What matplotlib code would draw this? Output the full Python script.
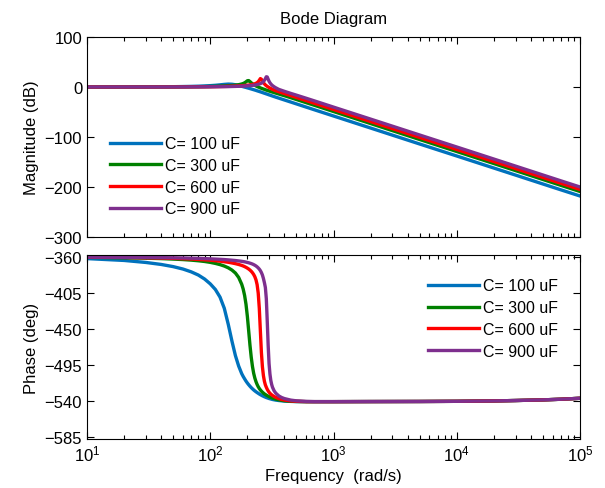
import matplotlib.pyplot as plt
import numpy as np

plt.rcParams['font.family'] = ['Liberation Sans', 'DejaVu Sans']
plt.rcParams['mathtext.fontset'] = 'custom'
plt.rcParams['mathtext.rm'] = 'Liberation Sans'

# Frequency grid (rad/s), shared by all curves
freq = [10, 20, 30, 40, 50, 60, 70, 80, 90, 100, 110, 120, 130, 140, 150, 160, 170, 180,
        185, 190, 195, 200, 205, 210, 215, 220, 225, 230, 235, 240, 245, 250, 255, 260,
        265, 270, 275, 280, 285, 290, 295, 300, 305, 310, 315, 320, 330, 340, 360, 380,
        400, 450, 500, 600, 700, 1000, 2000, 5000, 1e4, 2e4, 3e4, 5e4, 7e4, 1e5]

labels = ['C= 100 uF', 'C= 300 uF', 'C= 600 uF', 'C= 900 uF']
colors = ['#0072BD', '#008000', '#FF0000', '#7E2F8E']

# Magnitude (dB)
mag_100 = [0.0, 0.1, 0.2, 0.4, 0.6, 0.9, 1.2, 1.6, 2.1, 2.7, 3.4, 4.3, 5.2, 5.8, 5.5, 4.5, 3.0, 1.4,
           0.6, -0.2, -0.9, -1.7, -2.4, -3.2, -3.9, -4.7, -5.4, -6.1, -6.8, -7.6, -8.3, -9.0, -9.7, -10.4,
           -11.1, -11.8, -12.5, -13.1, -13.8, -14.4, -15.1, -15.7, -16.3, -16.9, -17.5, -18.1, -19.2, -20.3, -22.3, -24.2,
           -26.0, -30.1, -33.8, -40.2, -45.6, -58.0, -82.1, -114.0, -138.0, -162.1, -176.2, -194.0, -205.7, -218.0]
mag_300 = [0.0, 0.0, 0.1, 0.1, 0.2, 0.3, 0.4, 0.6, 0.8, 1.0, 1.3, 1.6, 2.0, 2.5, 3.0, 3.7, 4.6, 6.0,
           7.0, 8.4, 10.3, 12.5, 12.8, 10.8, 8.5, 6.5, 4.8, 3.4, 2.1, 1.0, 0.0, -0.9, -1.8, -2.6,
           -3.4, -4.1, -4.8, -5.5, -6.2, -6.8, -7.4, -8.0, -8.6, -9.1, -9.7, -10.2, -11.2, -12.2, -14.0, -15.8,
           -17.4, -21.4, -25.0, -31.3, -36.6, -49.0, -73.1, -105.0, -129.0, -153.1, -167.2, -185.0, -196.7, -209.0]
mag_600 = [0.0, 0.0, 0.0, 0.1, 0.1, 0.2, 0.3, 0.4, 0.5, 0.6, 0.7, 0.9, 1.1, 1.3, 1.5, 1.8, 2.1, 2.5,
           2.7, 3.0, 3.2, 3.5, 3.8, 4.2, 4.6, 5.1, 5.7, 6.4, 7.4, 8.7, 10.6, 13.5, 16.8, 15.5,
           12.0, 8.8, 6.2, 4.2, 2.6, 1.2, 0.0, -1.1, -2.1, -3.0, -3.9, -4.7, -6.2, -7.5, -9.5, -11.4,
           -13.1, -17.2, -20.9, -27.2, -32.6, -45.0, -69.1, -100.9, -125.0, -149.1, -163.2, -181.0, -192.6, -205.0]
mag_900 = [0.0, 0.0, 0.0, 0.0, 0.1, 0.1, 0.2, 0.2, 0.3, 0.4, 0.5, 0.6, 0.7, 0.8, 1.0, 1.2, 1.4, 1.7,
           1.8, 2.0, 2.1, 2.3, 2.5, 2.7, 2.9, 3.2, 3.5, 3.8, 4.2, 4.7, 5.2, 5.9, 6.7, 7.7,
           9.0, 10.8, 13.3, 16.5, 20.5, 20.0, 15.5, 11.5, 8.5, 6.2, 4.3, 2.8, 0.4, -1.6, -4.8, -6.8,
           -8.7, -12.8, -16.3, -22.5, -27.8, -40.2, -64.2, -96.0, -120.0, -144.1, -158.2, -176.0, -187.7, -200.0]

# Phase (deg)
phase_100 = [-362.0, -364.3, -366.8, -369.3, -372.0, -375.0, -378.5, -382.5, -387.5, -393.5, -400.5, -410.0, -424.0, -444.0, -465.0, -483.0, -496.0, -505.5,
             -509.0, -512.0, -514.8, -517.2, -519.3, -521.2, -522.9, -524.4, -525.8, -527.0, -528.1, -529.1, -530.0, -530.9, -531.7, -532.4,
             -533.1, -533.7, -534.3, -534.8, -535.3, -535.7, -536.1, -536.5, -536.8, -537.1, -537.4, -537.7, -538.1, -538.5, -539.0, -539.4,
             -539.7, -540.1, -540.3, -540.4, -540.4, -540.4, -540.3, -540.2, -540.0, -539.5, -539.0, -538.2, -537.4, -536.2]
phase_300 = [-360.5, -361.0, -361.5, -362.0, -362.6, -363.2, -363.9, -364.7, -365.6, -366.7, -368.0, -369.5, -371.3, -373.5, -376.3, -380.0, -385.5, -394.0,
             -400.0, -408.0, -419.0, -434.0, -452.0, -470.0, -485.0, -496.5, -505.0, -511.0, -515.5, -519.0, -521.8, -524.0, -525.8, -527.3,
             -528.6, -529.7, -530.7, -531.5, -532.3, -533.0, -533.6, -534.2, -534.7, -535.2, -535.6, -536.0, -536.7, -537.3, -538.2, -538.8,
             -539.3, -539.9, -540.2, -540.4, -540.4, -540.4, -540.3, -540.2, -540.0, -539.5, -539.0, -538.2, -537.4, -536.2]
phase_600 = [-360.3, -360.6, -361.0, -361.3, -361.7, -362.1, -362.5, -363.0, -363.5, -364.0, -364.6, -365.2, -365.9, -366.6, -367.4, -368.3, -369.3, -370.5,
             -371.2, -372.0, -372.9, -373.9, -375.0, -376.3, -377.8, -379.6, -381.8, -384.6, -388.5, -394.5, -405.0, -424.0, -452.0, -479.0,
             -497.0, -508.0, -515.0, -519.5, -522.5, -525.0, -527.0, -528.6, -529.9, -531.0, -531.9, -532.7, -534.0, -535.0, -536.6, -537.7,
             -538.4, -539.5, -540.0, -540.4, -540.4, -540.4, -540.3, -540.2, -540.0, -539.5, -539.0, -538.2, -537.4, -536.2]
phase_900 = [-360.2, -360.4, -360.6, -360.8, -361.0, -361.2, -361.5, -361.7, -362.0, -362.3, -362.6, -362.9, -363.2, -363.6, -364.0, -364.4, -364.9, -365.4,
             -365.7, -366.0, -366.4, -366.8, -367.2, -367.7, -368.2, -368.8, -369.5, -370.3, -371.2, -372.3, -373.6, -375.1, -377.0, -379.4,
             -382.5, -386.8, -392.0, -398.0, -412.0, -440.0, -470.0, -493.0, -506.0, -514.0, -519.0, -522.5, -527.0, -529.8, -533.3, -535.3,
             -536.6, -538.5, -539.4, -540.1, -540.4, -540.4, -540.3, -540.2, -540.0, -539.5, -539.0, -538.2, -537.4, -536.2]

mags = [mag_100, mag_300, mag_600, mag_900]
phases = [phase_100, phase_300, phase_600, phase_900]

fig = plt.figure(figsize=(6.05, 4.89), dpi=100)
ax_mag = fig.add_axes([0.1438, 0.5133, 0.8149, 0.409])
ax_ph = fig.add_axes([0.1438, 0.1002, 0.8149, 0.3763])

for m, p, c, lab in zip(mags, phases, colors, labels):
    ax_mag.semilogx(freq, m, color=c, lw=2.4, label=lab)
    ax_ph.semilogx(freq, p, color=c, lw=2.4, label=lab)

for ax in (ax_mag, ax_ph):
    ax.set_xlim(10, 1e5)
    ax.tick_params(which='both', direction='in', top=True, right=True, labelsize=12, width=0.8)
    ax.tick_params(which='major', length=5)
    ax.tick_params(which='minor', length=3)
    for s in ax.spines.values():
        s.set_linewidth(0.8)

ax_mag.set_ylim(-300, 100)
ax_mag.set_yticks([100, 0, -100, -200, -300])
ax_mag.tick_params(labelbottom=False)
ax_mag.set_ylabel('Magnitude (dB)', fontsize=12)
ax_mag.set_title('Bode Diagram', fontsize=12, pad=10)

ax_ph.set_ylim(-587.0, -357.5)
ax_ph.set_yticks([-360, -405, -450, -495, -540, -585])
ax_ph.set_ylabel('Phase (deg)', fontsize=12)
ax_ph.set_xlabel('Frequency  (rad/s)', fontsize=12, labelpad=3)

ax_mag.legend(loc='upper left', bbox_to_anchor=(0.018, 0.575), frameon=False, fontsize=11.5,
              handlelength=3.2, handletextpad=0.25, labelspacing=0.42)
ax_ph.legend(loc='upper left', bbox_to_anchor=(0.663, 0.951), frameon=False, fontsize=11.5,
             handlelength=3.2, handletextpad=0.25, labelspacing=0.42)

fig.savefig('out.png', dpi=100)
